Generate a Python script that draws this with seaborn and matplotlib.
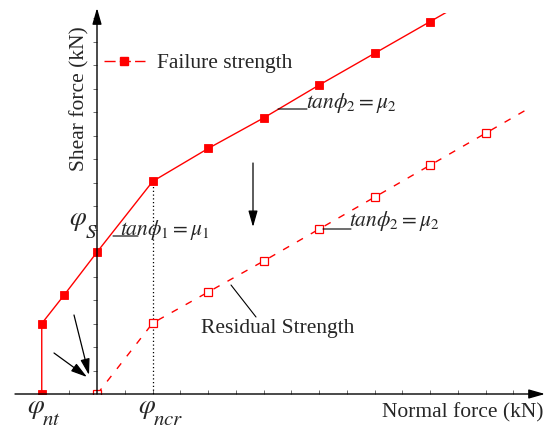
import matplotlib
matplotlib.use("Agg")
import matplotlib.pyplot as plt
import pandas as pd
import seaborn as sns
from matplotlib.lines import Line2D

# Shear strength envelopes (normal force vs shear force, arbitrary units)
failure_normal = [-2, -2, -1.2, 0, 2, 4, 6, 8, 10, 12, 14]
failure_shear = [0, 3.0, 4.2, 6.05, 9.05, 10.45, 11.75, 13.15, 14.5, 15.85, 17.2]
residual_normal = [0, 2, 4, 6, 8, 10, 12, 14, 16]
residual_shear = [0, 3.02, 4.34, 5.66, 7.02, 8.38, 9.74, 11.1, 12.46]

x_label = "Normal force (kN)"
y_label = "Shear force (kN)"
failure_label = "Failure strength"
residual_label = "Residual Strength"

sns.set_style("white")
plt.rcParams["font.family"] = ["Liberation Serif", "DejaVu Serif"]
plt.rcParams["mathtext.fontset"] = "stix"

W, H = 548, 429
FS = 15.5
fig = plt.figure(figsize=(W / 100, H / 100), dpi=100)
ax = fig.add_axes([14 / W, (H - 394) / H, (530.15 - 14) / W, (394 - 13.3) / H])
ax.set_xlim(-3, 15.6)
ax.set_ylim(0, 16.2)


def fp(x, y):
    """Pixel position on the canvas -> figure fraction."""
    return (x / W, 1 - y / H)


failure = pd.DataFrame({"normal": failure_normal, "shear": failure_shear})
residual = pd.DataFrame({"normal": residual_normal, "shear": residual_shear})

sns.lineplot(data=failure, x="normal", y="shear", sort=False, estimator=None,
             color="red", lw=1.0, marker="s", markersize=6,
             markerfacecolor="red", markeredgecolor="red", markeredgewidth=0.6,
             ax=ax, zorder=3)
sns.lineplot(data=residual, x="normal", y="shear", sort=False, estimator=None,
             color="red", lw=1.0, marker="s", markersize=6.2,
             markerfacecolor="white", markeredgecolor="red", markeredgewidth=0.9,
             ax=ax, zorder=3)
ax.lines[-1].set_dashes((5, 6.5))

# dotted guide below the break point of the failure envelope
ax.vlines(failure_normal[4], 0, failure_shear[4], colors="black",
          linestyles=(0, (1, 2)), lw=0.9, zorder=2)

# axes: invisible spines carry the ticks, arrows draw the lines
for s in ax.spines.values():
    s.set_visible(False)
ax.spines["left"].set_position(("data", 0))
ax.spines["bottom"].set_position(("data", 0))
ax.set_xticks(range(-2, 16))
ax.set_yticks(range(1, 17))
ax.tick_params(axis="x", direction="in", length=3, width=0.6, colors="#555555",
               labelbottom=False, bottom=True, top=False)
ax.tick_params(axis="y", direction="out", length=3, width=0.6, colors="#555555",
               labelleft=False, left=True, right=False)
ax.set_xlabel("")
ax.set_ylabel("")
ax.grid(False)

arrow_kw = dict(arrowstyle="-|>,head_length=0.7,head_width=0.2", color="black",
                lw=1.0, shrinkA=0, shrinkB=0, mutation_scale=14)
ax.annotate("", xy=fp(545, 394), xytext=fp(15, 394), xycoords="figure fraction",
            arrowprops=arrow_kw, annotation_clip=False, zorder=6)
ax.annotate("", xy=fp(97, 8), xytext=fp(97, 394), xycoords="figure fraction",
            arrowprops=arrow_kw, annotation_clip=False, zorder=6)

# pointer arrows
thin_arrow = dict(arrow_kw, lw=0.9)
for start, end in [((253, 163), (253, 227)), ((74, 315), (89, 375)),
                   ((54, 353), (87, 377))]:
    ax.annotate("", xy=fp(*end), xytext=fp(*start), xycoords="figure fraction",
                arrowprops=thin_arrow, annotation_clip=False, zorder=6)

# leader lines
for start, end in [((113, 236), (138, 236)), ((278, 109), (307, 109)),
                   ((323, 229), (351, 229)), ((231, 285), (256, 317))]:
    ax.annotate("", xy=fp(*end), xytext=fp(*start), xycoords="figure fraction",
                arrowprops=dict(arrowstyle="-", color="black", lw=0.8,
                                shrinkA=0, shrinkB=0),
                annotation_clip=False)

# friction annotations
fig.text(*fp(120, 235), r"$\mathit{tan}\phi_{\mathit{1}} = \mu_{\mathit{1}}$",
         fontsize=FS, va="baseline", ha="left")
fig.text(*fp(306, 108), r"$\mathit{tan}\phi_{\mathit{2}} = \mu_{\mathit{2}}$",
         fontsize=FS, va="baseline", ha="left")
fig.text(*fp(349, 226), r"$\mathit{tan}\phi_{\mathit{2}} = \mu_{\mathit{2}}$",
         fontsize=FS, va="baseline", ha="left")

# characteristic points
for base_xy, sub, sub_xy in [((27, 413), "nt", (42, 425)),
                             ((138, 413), "ncr", (153, 425)),
                             ((69, 225), "S", (85, 238))]:
    fig.text(*fp(*base_xy), r"$\varphi$", fontsize=19.5, va="baseline", ha="left")
    fig.text(*fp(*sub_xy), "$" + sub + "$", fontsize=15, va="baseline", ha="left")

fig.text(*fp(201, 333), residual_label, fontsize=FS, va="baseline", ha="left")
fig.text(*fp(543, 417), x_label, fontsize=FS, va="baseline", ha="right")
fig.text(*fp(79.5, 98.5), y_label, fontsize=FS, rotation=90,
         va="center", ha="center")

handle = Line2D([], [], color="red", lw=1.0, dashes=(8, 3), marker="s",
                markersize=6, markerfacecolor="red", markeredgecolor="red")
fig.legend(handles=[handle], labels=[failure_label], loc="center left",
           bbox_to_anchor=fp(104, 63), frameon=False, fontsize=FS,
           handlelength=1.9, handletextpad=0.55, borderpad=0, borderaxespad=0)

fig.savefig("out.png", dpi=100, facecolor="white")
